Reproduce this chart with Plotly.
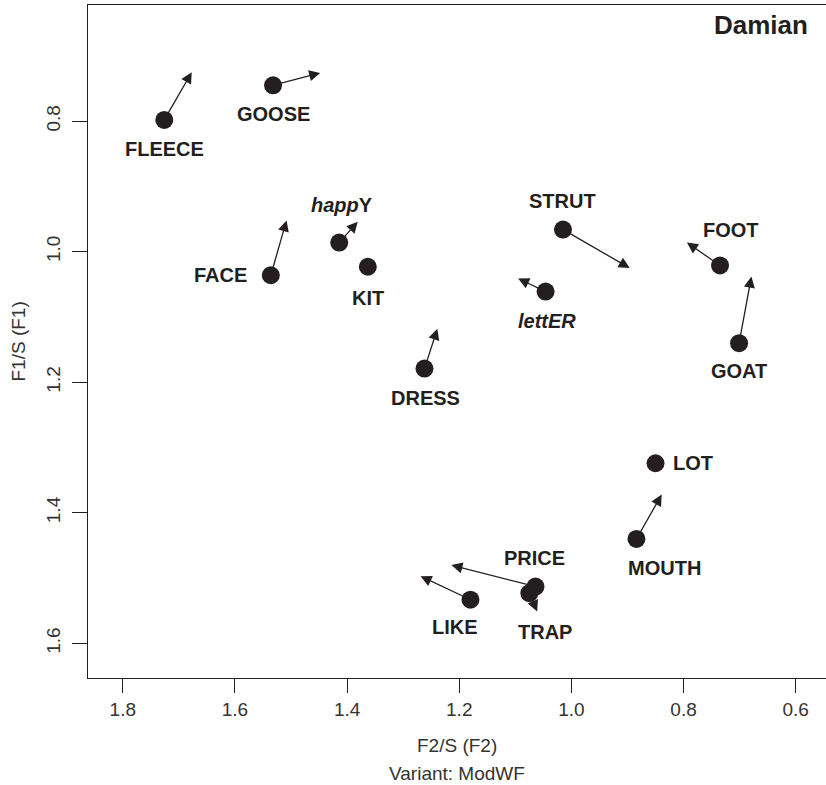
import plotly.graph_objects as go

# ---- data -------------------------------------------------------------
vowels = ["FLEECE", "GOOSE", "happY", "FACE", "KIT", "DRESS", "STRUT",
          "lettER", "FOOT", "GOAT", "LOT", "MOUTH", "LIKE", "PRICE", "TRAP"]
labels = ["FLEECE", "GOOSE", "<i>happ</i>Y", "FACE", "KIT", "DRESS", "STRUT",
          "<i>lettER</i>", "FOOT", "GOAT", "LOT", "MOUTH", "LIKE", "PRICE", "TRAP"]
f2_start = [1.726, 1.532, 1.414, 1.536, 1.363, 1.262, 1.015,
            1.046, 0.735, 0.701, 0.850, 0.884, 1.180, 1.064, 1.075]
f1_start = [0.798, 0.745, 0.986, 1.036, 1.023, 1.179, 0.966,
            1.061, 1.021, 1.140, 1.324, 1.440, 1.533, 1.513, 1.523]
f2_end = [1.677, 1.448, 1.381, 1.508, None, 1.239, 0.896,
          1.095, 0.794, 0.679, None, 0.839, 1.269, 1.214, 1.061]
f1_end = [0.725, 0.726, 0.954, 0.952, None, 1.118, 1.025,
          1.041, 0.986, 1.038, None, 1.372, 1.497, 1.480, 1.551]

x_ticks = [1.8, 1.6, 1.4, 1.2, 1.0, 0.8, 0.6]
y_ticks = [0.8, 1.0, 1.2, 1.4, 1.6]
speaker = "Damian"
variant = "ModWF"
x_title = "F2/S (F2)"
y_title = "F1/S (F1)"

# ---- label offsets (pixels: right, down) -------------------------------
label_offsets = {
    "FLEECE": (0, 29), "GOOSE": (0, 29), "happY": (3, -38), "FACE": (-50, 0),
    "KIT": (0, 31), "DRESS": (1, 29), "STRUT": (0, -29), "lettER": (1, 29),
    "FOOT": (11, -35), "GOAT": (0, 28), "LOT": (37, 0), "MOUTH": (28, 29),
    "LIKE": (-15, 27), "PRICE": (-1, -29), "TRAP": (16, 39),
}

INK = "#231f20"
AXIS_TXT = "#333333"
FONT = "Liberation Sans, Arial, Helvetica, sans-serif"

fig = go.Figure()
fig.add_trace(go.Scatter(
    x=f2_start, y=f1_start, mode="markers",
    marker=dict(size=18, color=INK, line=dict(width=0)),
    hoverinfo="text", hovertext=vowels, showlegend=False,
))

annotations = []
for v, lab, x0, y0, x1, y1 in zip(vowels, labels, f2_start, f1_start, f2_end, f1_end):
    if x1 is not None:
        annotations.append(dict(
            x=x1, y=y1, ax=x0, ay=y0, xref="x", yref="y", axref="x", ayref="y",
            text="", showarrow=True, arrowhead=2, arrowsize=1.7, arrowwidth=1.3,
            arrowcolor=INK, standoff=0, startstandoff=0,
        ))
    dx, dy = label_offsets[v]
    annotations.append(dict(
        x=x0, y=y0, xref="x", yref="y", text="<b>" + lab + "</b>",
        showarrow=False, xshift=dx, yshift=-dy,
        font=dict(family=FONT, size=20, color=INK),
        xanchor="center", yanchor="middle",
    ))

annotations.append(dict(
    x=1, y=1, xref="paper", yref="paper", text="<b>" + speaker + "</b>",
    showarrow=False, xanchor="right", yanchor="top", xshift=-16, yshift=-3,
    font=dict(family=FONT, size=26, color=INK),
))
# axis titles
annotations.append(dict(
    x=0.5, y=0, xref="paper", yref="paper", text=x_title,
    showarrow=False, xanchor="center", yanchor="middle", yshift=-67,
    font=dict(family=FONT, size=19, color=AXIS_TXT),
))
annotations.append(dict(
    x=0.5, y=0, xref="paper", yref="paper", text="Variant: " + variant,
    showarrow=False, xanchor="center", yanchor="middle", yshift=-95,
    font=dict(family=FONT, size=19, color=AXIS_TXT),
))
annotations.append(dict(
    x=0, y=0.5, xref="paper", yref="paper", text=y_title, textangle=-90,
    showarrow=False, xanchor="center", yanchor="middle", xshift=-70,
    font=dict(family=FONT, size=19, color=AXIS_TXT),
))

fig.update_layout(
    width=826, height=785,
    margin=dict(l=88, r=0, t=5, b=107),
    paper_bgcolor="white", plot_bgcolor="white",
    font=dict(family=FONT, color=INK),
    annotations=annotations,
    xaxis=dict(
        range=[1.862, 0.546], tickvals=x_ticks,
        ticktext=[f"{t:.1f}" for t in x_ticks],
        showgrid=False, zeroline=False, automargin=False,
        showline=True, linecolor=INK, linewidth=1.3, mirror=True,
        ticks="outside", ticklen=14, tickwidth=1, tickcolor=INK,
        tickfont=dict(family=FONT, size=19, color=AXIS_TXT),
        ticklabelstandoff=0,
    ),
    yaxis=dict(
        range=[1.653, 0.622], tickvals=y_ticks,
        ticktext=[f"{t:.1f}" for t in y_ticks],
        showgrid=False, zeroline=False, automargin=False,
        showline=True, linecolor=INK, linewidth=1.3, mirror=False,
        ticks="outside", ticklen=15, tickwidth=1, tickcolor=INK,
        tickangle=-90, ticklabelstandoff=4,
        tickfont=dict(family=FONT, size=19, color=AXIS_TXT),
    ),
)

fig.write_html("out.html", config={"displayModeBar": False},
               post_script="document.body.style.margin='0';")
